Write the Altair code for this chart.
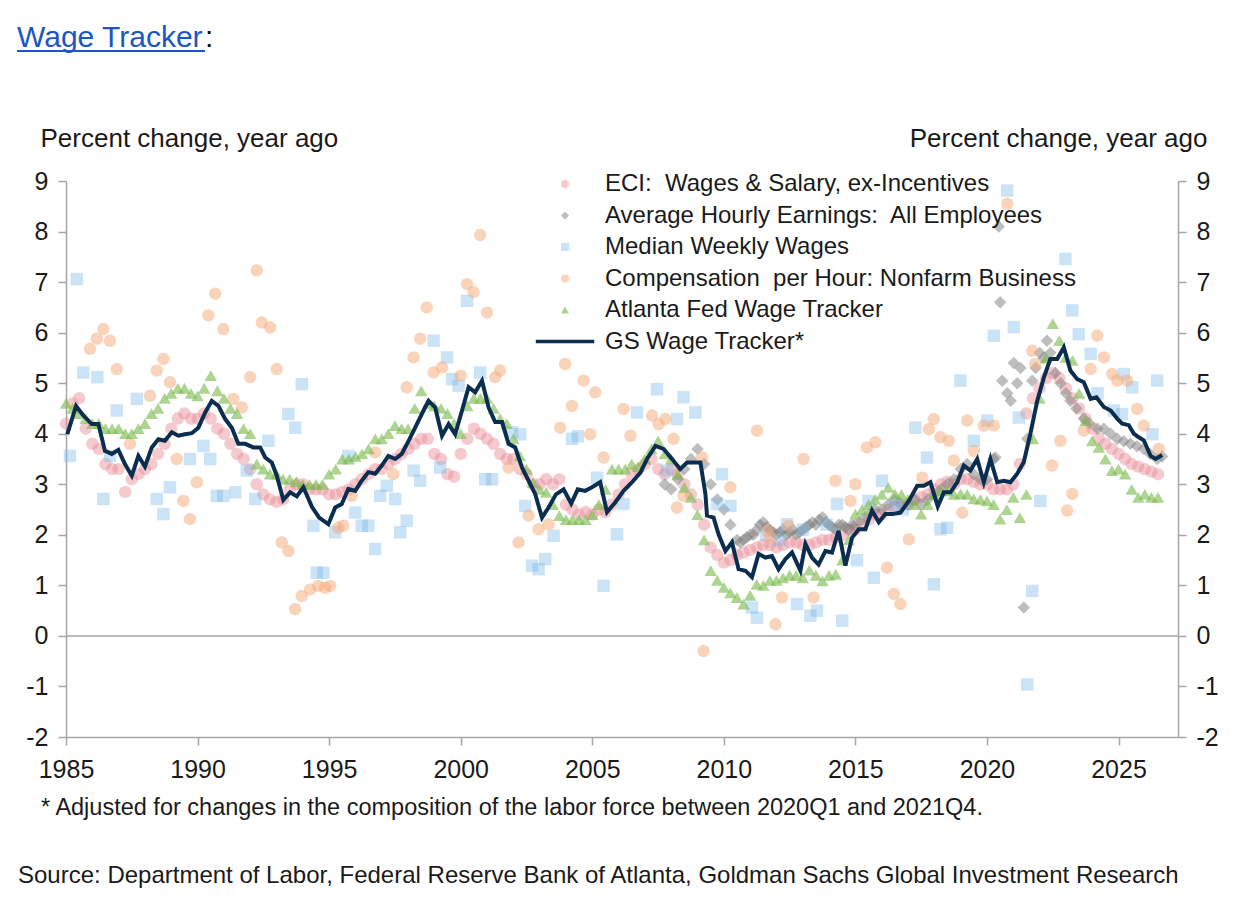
import altair as alt
import pandas as pd

FONT = "Liberation Sans"
TXT = "#1a1a1a"
AXC = "#a6a6a6"

SERIES = [
    "ECI:\u00a0 Wages & Salary, ex-Incentives",
    "Average Hourly Earnings:\u00a0 All Employees",
    "Median Weekly Wages",
    "Compensation\u00a0 per Hour: Nonfarm Business",
    "Atlanta Fed Wage Tracker",
    "GS Wage Tracker*",
]
COLORS = [
    "rgba(232,138,148,0.45)",
    "rgba(125,125,125,0.5)",
    "rgba(122,184,232,0.40)",
    "rgba(245,168,120,0.5)",
    "rgba(118,185,71,0.6)",
    "#0b2d50",
]
SHAPES = ["circle", "diamond", "square", "circle", "triangle-up",
          "M-7.3,-0.45L7.3,-0.45L7.3,0.45L-7.3,0.45Z"]

QSTART = 1985.0  # quarterly series start

# ECI: Wages & Salary ex-incentives (quarterly, from 1985Q1)
eci_q = [
    4.2, 4.6, 4.7, 4.1, 3.8, 3.7, 3.4, 3.3, 3.3, 2.85, 3.1, 3.2,
    3.3, 3.4, 3.6, 3.8, 4.1, 4.3, 4.4, 4.3, 4.3, 4.4, 4.3, 4.1,
    4.0, 3.8, 3.6, 3.5, 3.3, 3.0, 2.8, 2.7, 2.65, 2.7, 2.9, 3.0,
    3.0, 2.9, 2.9, 2.9, 2.8, 2.8, 2.85, 2.9, 3.0, 3.1, 3.2, 3.3,
    3.3, 3.4, 3.5, 3.6, 3.7, 3.8, 3.9, 3.9, 3.6, 3.5, 3.2, 3.15,
    3.6, 3.9, 4.1, 4.0, 3.9, 3.8, 3.6, 3.5, 3.5, 3.3, 3.2, 3.0,
    3.0, 3.1, 3.0, 3.1, 2.6, 2.5, 2.4, 2.45, 2.4, 2.5, 2.45, 2.6,
    2.8, 3.0, 3.2, 3.3, 3.4, 3.5, 3.3, 3.2, 3.3, 3.2, 3.0, 2.8,
    2.6, 2.2, 1.75, 1.6, 1.45, 1.5, 1.6, 1.65, 1.7, 1.75, 1.8, 1.8,
    1.75, 1.8, 1.85, 1.85, 1.8, 1.8, 1.85, 1.9, 1.9, 1.95, 2.0, 2.1,
    2.1, 2.2, 2.3, 2.4, 2.4, 2.5, 2.55, 2.6, 2.6, 2.7, 2.75, 2.8,
    2.9, 3.0, 3.05, 3.0, 3.1, 3.1, 3.05, 3.0, 3.0, 2.9, 2.9, 2.9,
    3.0, 3.4, 4.4, 4.7, 4.9, 5.1, 5.2, 5.1, 4.9, 4.7, 4.5, 4.3,
    4.1, 3.9, 3.8, 3.7, 3.6, 3.5, 3.4, 3.35, 3.3, 3.25, 3.2,
]

# Atlanta Fed Wage Tracker (quarterly, from 1985Q1)
atl_q = [
    4.6, 4.5, 4.4, 4.3, 4.2, 4.2, 4.1, 4.1, 4.1, 4.0, 4.0, 4.1,
    4.2, 4.4, 4.5, 4.7, 4.8, 4.9, 4.9, 4.8, 4.75, 4.9, 5.15, 4.85,
    4.7, 4.5, 4.4, 4.1, 4.0, 3.4, 3.3, 3.2, 3.2, 3.1, 3.1, 3.05,
    3.0, 3.0, 3.0, 3.0, 3.2, 3.3, 3.5, 3.5, 3.55, 3.6, 3.7, 3.9,
    3.9, 4.0, 4.16, 4.1, 4.1, 4.5, 4.85, 4.6, 4.55, 4.5, 4.4, 4.2,
    4.0, 4.55, 4.7, 4.7, 4.7, 4.5, 4.3, 4.2, 3.9, 3.56, 3.3, 3.04,
    2.9, 2.84, 2.6, 2.38, 2.3, 2.3, 2.3, 2.3, 2.4, 2.6, 2.9, 3.3,
    3.3, 3.3, 3.4, 3.35, 3.5, 3.7, 3.86, 3.6, 3.5, 3.2, 2.94, 2.74,
    2.4, 1.9, 1.29, 1.1, 0.96, 0.85, 0.76, 0.63, 0.8, 1.02, 1.0, 1.1,
    1.1, 1.15, 1.2, 1.2, 1.15, 1.3, 1.2, 1.09, 1.2, 1.22, 1.5, 1.9,
    2.41, 2.5, 2.6, 2.7, 2.8, 2.94, 2.81, 2.8, 2.7, 2.6, 2.41, 2.6,
    2.8, 2.87, 2.87, 2.8, 2.81, 2.8, 2.71, 2.7, 2.67, 2.6, 2.31, 2.5,
    2.74, 2.34, 2.8, 3.9, 4.7, 5.5, 6.18, 5.84, 5.51, 5.45, 4.8, 4.26,
    3.86, 3.73, 3.5, 3.27, 3.3, 3.2, 2.9, 2.74, 2.8, 2.74, 2.74,
]

# Average Hourly Earnings: All Employees (year, value)
ahe = [
    (2007.75, 3.0), (2008.0, 2.9), (2008.25, 3.1), (2008.5, 3.3), (2008.75, 3.5),
    (2009.0, 3.7), (2009.25, 3.4), (2009.5, 3.0), (2009.75, 2.7), (2010.0, 2.5),
    (2010.25, 2.2), (2010.5, 1.9), (2010.625, 1.85), (2010.75, 1.9), (2010.875, 1.95),
    (2011.0, 2.0), (2011.125, 2.0), (2011.25, 2.1), (2011.375, 2.2), (2011.5, 2.25),
    (2011.625, 2.15), (2011.75, 2.1), (2011.875, 2.05), (2012.0, 2.0), (2012.125, 2.05),
    (2012.25, 2.1), (2012.375, 2.0), (2012.5, 2.05), (2012.625, 2.1), (2012.75, 2.0),
    (2012.875, 2.05), (2013.0, 2.1), (2013.125, 2.15), (2013.25, 2.2), (2013.375, 2.25),
    (2013.5, 2.2), (2013.625, 2.3), (2013.75, 2.35), (2013.875, 2.25), (2014.0, 2.2),
    (2014.125, 2.15), (2014.25, 2.1), (2014.375, 2.2), (2014.5, 2.2), (2014.625, 2.15),
    (2014.75, 2.1), (2014.875, 2.2), (2015.0, 2.2),
    (2015.25, 2.3), (2015.5, 2.4), (2015.75, 2.5), (2016.0, 2.5), (2016.25, 2.6),
    (2016.5, 2.7), (2016.75, 2.6), (2017.0, 2.6), (2017.25, 2.7), (2017.5, 2.6),
    (2017.75, 2.7), (2018.0, 2.8), (2018.25, 2.9), (2018.5, 3.0), (2018.75, 3.1),
    (2019.0, 3.3), (2019.25, 3.4), (2019.5, 3.2), (2019.75, 3.1), (2020.0, 3.1),
    (2020.25, 3.5), (2020.32, 3.53), (2020.45, 8.1), (2020.5, 6.6), (2020.58, 5.05),
    (2020.77, 4.8), (2020.9, 4.65), (2021.02, 5.4), (2021.15, 5.0), (2021.27, 5.3),
    (2021.4, 0.56), (2021.53, 3.9), (2021.72, 5.05), (2021.85, 5.3), (2022.0, 5.6),
    (2022.15, 5.5), (2022.28, 5.84), (2022.41, 5.6), (2022.6, 5.2), (2022.8, 5.0),
    (2023.0, 4.8), (2023.17, 4.65), (2023.4, 4.5), (2023.68, 4.3), (2023.9, 4.2),
    (2024.2, 4.1), (2024.44, 4.1), (2024.7, 4.0), (2024.95, 3.9), (2025.2, 3.85),
    (2025.45, 3.8), (2025.7, 3.75), (2025.96, 3.7), (2026.2, 3.6), (2026.47, 3.5),
    (2026.66, 3.55),
]

# Median Weekly Wages (year, value)
mww = [
    (1985.15, 3.56), (1985.41, 7.06), (1985.66, 5.21), (1986.19, 5.12), (1986.42, 2.71),
    (1986.67, 3.56), (1986.93, 4.46), (1987.69, 4.69), (1988.45, 2.71), (1988.70, 2.41),
    (1988.95, 2.94), (1989.71, 3.50), (1990.22, 3.76), (1990.48, 3.50), (1990.73, 2.77),
    (1990.98, 2.77), (1991.43, 2.84), (1991.87, 3.27), (1992.19, 2.71), (1992.69, 3.86),
    (1993.45, 4.39), (1993.71, 4.12), (1993.96, 4.98), (1994.40, 2.18), (1994.53, 1.25),
    (1994.78, 1.25), (1995.23, 2.05), (1995.73, 3.56), (1995.99, 2.44), (1996.24, 2.18),
    (1996.49, 2.18), (1996.75, 1.72), (1996.94, 2.77), (1997.19, 2.97), (1997.51, 2.71),
    (1997.70, 2.05), (1997.95, 2.28), (1998.21, 3.27), (1998.46, 3.07), (1998.97, 5.84),
    (1999.22, 3.33), (1999.48, 5.51), (1999.67, 5.08), (1999.92, 4.95), (2000.24, 6.63),
    (2000.74, 5.21), (2000.93, 3.10), (2001.19, 3.10), (2001.95, 4.03), (2002.26, 3.99),
    (2002.45, 2.57), (2002.71, 1.39), (2002.96, 1.32), (2003.21, 1.52), (2003.53, 1.98),
    (2004.23, 3.90), (2004.45, 3.95), (2005.18, 3.13), (2005.43, 0.99), (2005.94, 2.01),
    (2006.19, 2.61), (2006.70, 4.42), (2007.46, 4.88), (2007.84, 3.27), (2008.22, 4.29),
    (2008.47, 4.72), (2008.92, 4.42), (2009.74, 2.61), (2009.93, 3.20), (2010.25, 2.57),
    (2011.07, 0.56), (2011.26, 0.36), (2011.6, 2.0), (2012.1, 1.9), (2012.40, 2.21),
    (2012.78, 0.63), (2013.0, 2.1), (2013.29, 0.40), (2013.54, 0.50), (2013.9, 2.2),
    (2014.30, 2.61), (2014.50, 0.30), (2015.06, 1.50), (2015.5, 2.67), (2015.70, 1.15),
    (2016.01, 3.07), (2016.5, 2.6), (2016.8, 2.5), (2017.28, 4.12), (2017.72, 3.53),
    (2017.98, 1.02), (2018.23, 2.11), (2018.49, 2.14), (2018.99, 5.05), (2019.50, 3.86),
    (2020.01, 4.26), (2020.26, 5.94), (2020.77, 8.81), (2021.02, 6.11), (2021.21, 4.32),
    (2021.53, -0.96), (2021.72, 0.89), (2022.03, 2.67), (2022.98, 7.46), (2023.24, 6.44),
    (2023.49, 5.97), (2023.94, 5.58), (2024.2, 4.8), (2024.82, 4.46), (2025.13, 4.39),
    (2025.20, 5.18), (2025.52, 4.92), (2026.29, 3.99), (2026.47, 5.05),
]

# Compensation per Hour: Nonfarm Business (year, value)
comp = [
    (1985.91, 5.68), (1986.17, 5.88), (1986.42, 6.07), (1986.67, 5.84), (1986.93, 5.28),
    (1987.43, 3.80), (1988.19, 4.75), (1988.45, 5.25), (1988.70, 5.48), (1988.95, 5.02),
    (1989.21, 3.50), (1989.46, 2.67), (1989.71, 2.31), (1989.97, 3.04), (1990.41, 6.34),
    (1990.67, 6.77), (1990.98, 6.07), (1991.36, 4.69), (1991.68, 4.52), (1992.0, 5.12),
    (1992.25, 7.23), (1992.44, 6.20), (1992.76, 6.10), (1993.01, 5.28), (1993.20, 1.85),
    (1993.45, 1.68), (1993.71, 0.53), (1993.96, 0.79), (1994.28, 0.92), (1994.59, 0.99),
    (1994.85, 0.95), (1995.04, 0.99), (1995.35, 2.14), (1995.54, 2.18), (1995.86, 2.77),
    (1996.75, 3.63), (1997.44, 3.20), (1997.95, 4.92), (1998.21, 5.51), (1998.46, 5.88),
    (1998.71, 6.50), (1998.97, 5.21), (1999.29, 5.31), (2000.0, 5.15), (2000.24, 6.96),
    (2000.49, 6.80), (2000.74, 7.93), (2001.0, 6.40), (2001.31, 5.12), (2001.5, 5.25),
    (2001.82, 3.33), (2002.20, 1.85), (2002.58, 2.38), (2002.96, 2.11), (2003.34, 2.21),
    (2003.78, 4.12), (2003.97, 5.38), (2004.23, 4.55), (2004.67, 5.05), (2004.92, 3.99),
    (2005.11, 4.82), (2005.43, 3.53), (2006.19, 4.49), (2006.45, 3.96), (2007.27, 4.36),
    (2007.52, 4.19), (2007.78, 4.29), (2008.09, 3.90), (2008.22, 2.54), (2008.47, 2.77),
    (2009.17, 3.53), (2009.23, -0.30), (2010.25, 2.94), (2011.26, 4.06), (2011.64, 2.08),
    (2011.77, 1.95), (2011.96, 0.23), (2012.21, 0.76), (2012.46, 2.18), (2013.03, 3.50),
    (2013.41, 0.76), (2014.24, 3.07), (2014.81, 2.67), (2015.0, 3.0), (2015.44, 3.73),
    (2015.76, 3.83), (2016.2, 1.35), (2016.46, 0.83), (2016.71, 0.63), (2017.03, 1.91),
    (2017.54, 3.13), (2017.79, 4.09), (2017.98, 4.29), (2018.23, 3.93), (2018.55, 3.86),
    (2018.74, 3.47), (2019.06, 2.44), (2019.25, 4.26), (2019.50, 3.66), (2019.88, 4.16),
    (2020.26, 4.16), (2020.77, 8.55), (2021.72, 5.64), (2021.84, 5.38), (2022.47, 3.37),
    (2022.79, 3.86), (2023.05, 2.48), (2023.24, 2.81), (2023.68, 4.06), (2023.94, 5.28),
    (2024.19, 5.94), (2024.44, 5.51), (2024.76, 5.18), (2024.95, 5.05), (2025.33, 5.05),
    (2025.71, 4.49), (2025.96, 4.16), (2026.53, 3.70),
]

# GS Wage Tracker (year, value)
gs = [
    (1985.05, 3.99), (1985.38, 4.55), (1985.66, 4.36), (1985.98, 4.19), (1986.23, 4.19),
    (1986.48, 3.66), (1986.74, 3.60), (1986.99, 3.68), (1987.24, 3.40), (1987.50, 3.17),
    (1987.75, 3.56), (1988.00, 3.35), (1988.26, 3.73), (1988.51, 3.89), (1988.76, 3.86),
    (1989.02, 4.03), (1989.27, 3.96), (1989.52, 3.99), (1989.78, 4.01), (1990.03, 4.12),
    (1990.29, 4.42), (1990.54, 4.65), (1990.79, 4.55), (1991.05, 4.29), (1991.30, 4.12),
    (1991.55, 3.80), (1991.81, 3.80), (1992.12, 3.73), (1992.38, 3.73), (1992.57, 3.53),
    (1992.82, 3.43), (1993.01, 3.17), (1993.26, 2.69), (1993.52, 2.84), (1993.77, 2.76),
    (1994.02, 2.94), (1994.35, 2.55), (1994.62, 2.34), (1994.97, 2.21), (1995.23, 2.54),
    (1995.48, 2.61), (1995.73, 2.91), (1995.99, 2.87), (1996.24, 3.07), (1996.49, 3.24),
    (1996.75, 3.21), (1997.00, 3.37), (1997.25, 3.56), (1997.51, 3.50), (1997.76, 3.60),
    (1998.02, 3.86), (1998.27, 4.12), (1998.52, 4.39), (1998.78, 4.65), (1999.03, 4.52),
    (1999.29, 3.96), (1999.54, 4.19), (1999.79, 3.99), (2000.05, 4.46), (2000.30, 4.92),
    (2000.55, 4.82), (2000.81, 5.05), (2001.06, 4.52), (2001.31, 4.23), (2001.57, 4.23),
    (2001.82, 3.80), (2002.07, 3.73), (2002.33, 3.33), (2002.58, 3.07), (2002.83, 2.81),
    (2003.09, 2.34), (2003.34, 2.54), (2003.62, 2.80), (2003.91, 2.90), (2004.20, 2.62),
    (2004.45, 2.90), (2004.73, 2.87), (2004.99, 2.94), (2005.30, 3.04), (2005.56, 2.45),
    (2005.87, 2.64), (2006.19, 2.87), (2006.51, 3.04), (2006.83, 3.23), (2007.08, 3.50),
    (2007.40, 3.76), (2007.71, 3.70), (2008.03, 3.50), (2008.34, 3.30), (2008.60, 3.43),
    (2009.11, 3.43), (2009.30, 2.81), (2009.36, 2.38), (2009.61, 2.34), (2009.80, 2.01),
    (2010.06, 1.68), (2010.31, 1.85), (2010.56, 1.32), (2010.82, 1.29), (2011.07, 1.16),
    (2011.32, 1.62), (2011.58, 1.55), (2011.83, 1.58), (2012.08, 1.32), (2012.34, 1.52),
    (2012.59, 1.65), (2012.91, 1.29), (2013.10, 1.82), (2013.35, 1.55), (2013.60, 1.41),
    (2013.86, 1.68), (2014.11, 1.65), (2014.36, 2.08), (2014.62, 1.39), (2014.87, 1.94),
    (2015.13, 2.11), (2015.38, 2.11), (2015.63, 2.48), (2015.89, 2.25), (2016.14, 2.41),
    (2016.40, 2.41), (2016.71, 2.44), (2017.03, 2.67), (2017.35, 2.97), (2017.60, 2.97),
    (2017.85, 3.04), (2018.13, 2.56), (2018.36, 2.84), (2018.61, 2.84), (2018.87, 3.04),
    (2019.12, 3.37), (2019.37, 3.27), (2019.63, 3.50), (2019.88, 3.04), (2020.13, 3.50),
    (2020.39, 3.04), (2020.64, 3.07), (2020.89, 3.04), (2021.15, 3.21), (2021.40, 3.44),
    (2021.65, 4.00), (2021.91, 4.65), (2022.16, 5.11), (2022.41, 5.48), (2022.67, 5.48),
    (2022.92, 5.71), (2023.17, 5.25), (2023.43, 5.08), (2023.68, 5.02), (2023.94, 4.69),
    (2024.16, 4.72), (2024.44, 4.53), (2024.70, 4.46), (2024.95, 4.30), (2025.14, 4.20),
    (2025.39, 4.17), (2025.58, 4.00), (2025.77, 3.93), (2025.96, 3.87), (2026.22, 3.56),
    (2026.41, 3.50), (2026.66, 3.58),
]

X_TICKS = [1985, 1990, 1995, 2000, 2005, 2010, 2015, 2020, 2025]
Y_TICKS = list(range(-2, 10))
AXIS_TITLE = "Percent change, year ago"
FOOTNOTE = "* Adjusted for changes in the composition of the labor force between 2020Q1 and 2021Q4."
SOURCE = "Source: Department of Labor, Federal Reserve Bank of Atlanta, Goldman Sachs Global Investment Research"
HEADER = "Wage Tracker"

rows = []
for i, v in enumerate(eci_q):
    rows.append((QSTART + i * 0.25, v, SERIES[0]))
for x, v in ahe:
    rows.append((x, v, SERIES[1]))
for x, v in mww:
    rows.append((x, v, SERIES[2]))
for x, v in comp:
    rows.append((x, v, SERIES[3]))
for i, v in enumerate(atl_q):
    rows.append((QSTART + i * 0.25, v, SERIES[4]))
pts = pd.DataFrame(rows, columns=["year", "value", "series"])
gsdf = pd.DataFrame(gs, columns=["year", "value"])

xscale = alt.Scale(domain=[1985, 2027.26], nice=False, zero=False)
yscale = alt.Scale(domain=[-2, 9], nice=False, zero=False)

xaxis = alt.Axis(values=X_TICKS, format="d", title=None, grid=False,
                 tickSize=8, tickWidth=1.5, tickColor=AXC,
                 domainColor=AXC, domainWidth=1.5,
                 labelFont=FONT, labelFontSize=25, labelColor=TXT,
                 labelPadding=12, labelFlush=False)


def yaxis(orient, title_align, title_x):
    return alt.Axis(orient=orient, values=Y_TICKS, labelExpr="'' + datum.value",
                    grid=False, tickSize=8, tickWidth=1.5, tickColor=AXC,
                    domainColor=AXC, domainWidth=1.5,
                    labelFont=FONT, labelFontSize=25, labelColor=TXT, labelPadding=10,
                    title=AXIS_TITLE, titleAngle=0, titleAlign=title_align,
                    titleBaseline="middle", titleX=title_x, titleY=-43,
                    titleFont=FONT, titleFontSize=26, titleFontWeight="normal",
                    titleColor=TXT)


legend = alt.Legend(title=None, orient="none", legendX=487, legendY=-9,
                    direction="vertical", symbolSize=64, symbolStrokeWidth=0,
                    labelFont=FONT, labelFontSize=24, labelColor=TXT,
                    labelOffset=28, rowPadding=7.5, padding=0, labelLimit=0)

points = alt.Chart(pts).mark_point(filled=True, size=155, opacity=1, strokeWidth=0).encode(
    x=alt.X("year:Q", scale=xscale, axis=xaxis),
    y=alt.Y("value:Q", scale=yscale, axis=yaxis("left", "left", -26)),
    color=alt.Color("series:N", scale=alt.Scale(domain=SERIES, range=COLORS), legend=legend),
    shape=alt.Shape("series:N", scale=alt.Scale(domain=SERIES, range=SHAPES), legend=legend),
)

line = alt.Chart(gsdf).mark_line(color="#0b2d50", strokeWidth=4).encode(
    x=alt.X("year:Q", scale=xscale),
    y=alt.Y("value:Q", scale=yscale, axis=None),
)

zero = alt.Chart(pd.DataFrame({"value": [0]})).mark_rule(color=AXC, strokeWidth=1.5).encode(
    y=alt.Y("value:Q", scale=yscale, axis=yaxis("right", "right", 29)),
)


def note(text, x, y, size, color):
    return alt.Chart(pd.DataFrame({"t": [text]})).mark_text(
        align="left", baseline="alphabetic", font=FONT, fontSize=size, color=color
    ).encode(text="t:N", x=alt.value(x), y=alt.value(y))


header = note(HEADER, -49, -134, 30, "#1a56c4")
colon = note(":", 139, -134, 30, "#111111")
underline = alt.Chart(pd.DataFrame({"a": [0]})).mark_rule(color="#1a56c4", strokeWidth=2).encode(
    x=alt.value(-49), x2=alt.value(139), y=alt.value(-130))
foot = note(FOOTNOTE, -25, 634, 23.5, TXT)
src = note(SOURCE, -48, 702, 24, TXT)

chart = alt.layer(points, line, zero, header, colon, underline, foot, src).resolve_scale(
    y="independent"
).properties(
    width=1112, height=556,
    autosize=alt.AutoSizeParams(type="none"),
    padding={"left": 58, "top": 173, "right": 58, "bottom": 153},
).configure(background="white").configure_view(stroke=None)

chart.save("out.html", embed_options={"renderer": "svg", "actions": False})
